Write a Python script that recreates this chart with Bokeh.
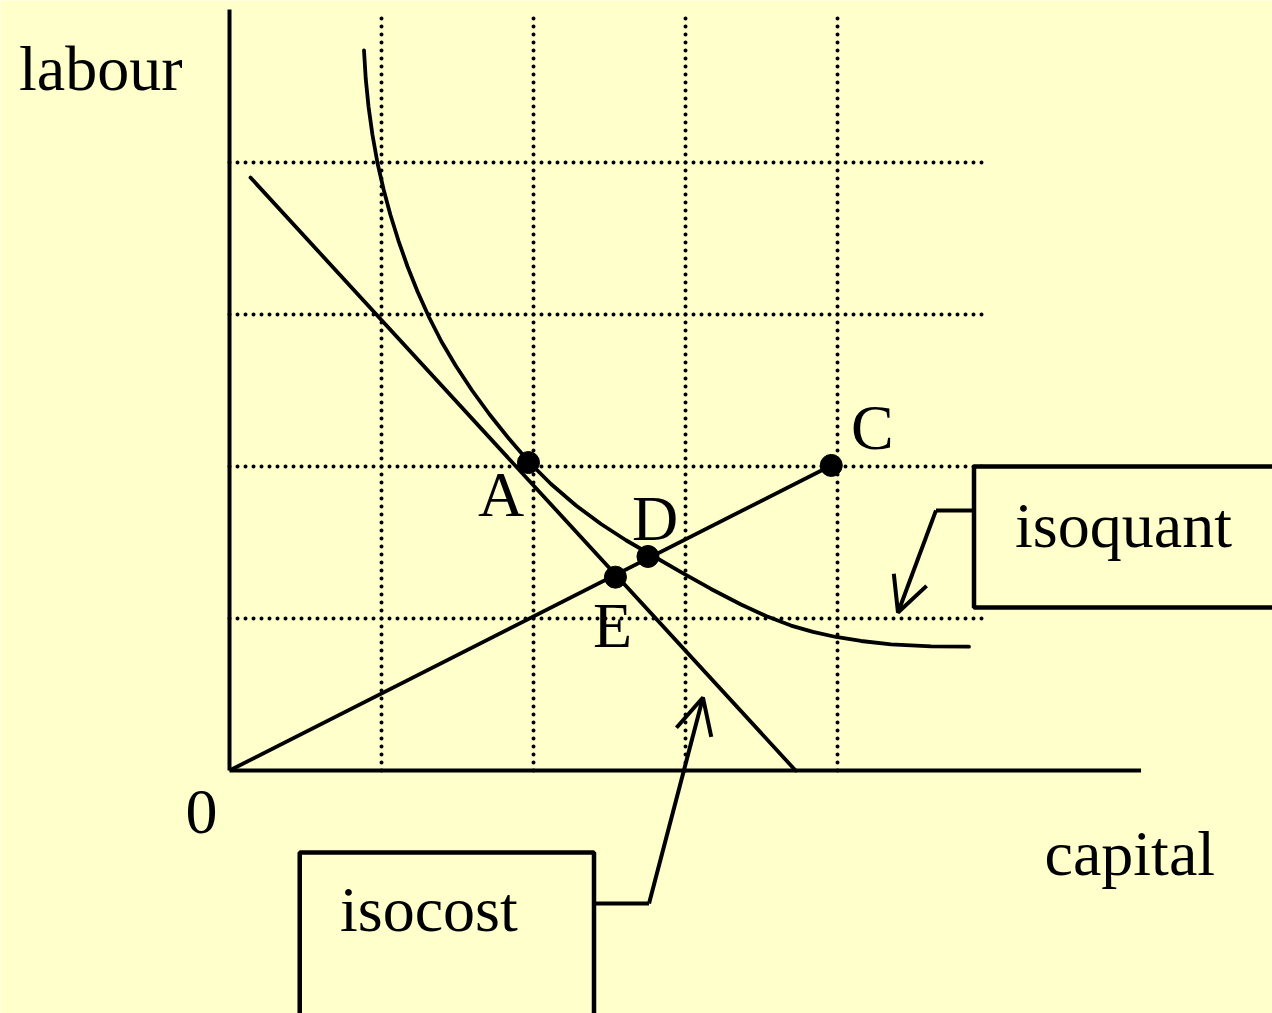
from bokeh.plotting import figure
from bokeh.models import ColumnDataSource, Arrow, OpenHead
from bokeh.core.properties import value
from bokeh.embed import file_html
from bokeh.resources import INLINE

# ---------------- data (axis units) ----------------
grid_x = [1, 2, 3, 4]            # dotted verticals (capital)
grid_y = [1, 2, 3, 4]            # dotted horizontals (labour)

isoquant_capital = [0.8849, 0.8961, 0.9145, 0.9401, 0.9743, 1.0138, 1.0579, 1.1112,
                    1.1711, 1.2368, 1.3138, 1.3941, 1.4875, 1.5961, 1.7112, 1.8375,
                    1.9737, 2.1151, 2.2796, 2.4441, 2.6086, 2.7730, 2.9704, 3.1678,
                    3.3651, 3.5296, 3.6941, 3.8388, 3.9901, 4.1546, 4.3520, 4.6151,
                    4.8651]
isoquant_labour = [4.7368, 4.5526, 4.3684, 4.1842, 3.9934, 3.8224, 3.6579, 3.4868,
                   3.3158, 3.1513, 2.9803, 2.8224, 2.6645, 2.5000, 2.3421, 2.1842,
                   2.0263, 1.8849, 1.7434, 1.6217, 1.5148, 1.4194, 1.3049, 1.1944,
                   1.0918, 1.0161, 0.9536, 0.9117, 0.8784, 0.8520, 0.8303, 0.8172,
                   0.8147]

isocost_capital = [0.138, 3.724]
isocost_labour = [3.901, 0.0]

ray_capital = [0.0, 3.959]
ray_labour = [0.0, 2.007]

point_names = ["A", "C", "D", "E"]
point_capital = [1.967, 3.959, 2.753, 2.539]
point_labour = [2.026, 2.007, 1.408, 1.272]

axis_capital_max = 5.997
axis_labour_max = 5.007
grid_extent = 4.97

# ---------------- figure ----------------
BG = "#FFFFCC"
p = figure(width=1272, height=1013, output_backend="svg", toolbar_location=None,
           x_range=(-1.5066, 6.8618), y_range=(-1.5987, 5.0658),
           x_axis_type=None, y_axis_type=None, min_border=0,
           background_fill_color=BG, border_fill_color=BG, outline_line_color=None)
p.grid.visible = False

# dotted grid
p.segment(x0=grid_x, y0=[0] * len(grid_x), x1=grid_x, y1=[grid_extent] * len(grid_x),
          line_color="black", line_width=4, line_dash="0 8", line_cap="round")
p.segment(x0=[0] * len(grid_y), y0=grid_y, x1=[grid_extent] * len(grid_y), y1=grid_y,
          line_color="black", line_width=4, line_dash="0 8", line_cap="round")

# axes
p.segment(x0=[0, 0], y0=[0, 0], x1=[0, axis_capital_max], y1=[axis_labour_max, 0],
          line_color="black", line_width=4)

# curves
p.line(isoquant_capital, isoquant_labour, line_color="black", line_width=3.8,
       line_join="round", line_cap="round")
p.line(isocost_capital, isocost_labour, line_color="black", line_width=3.8, line_cap="round")
p.line(ray_capital, ray_labour, line_color="black", line_width=3.8)

# callout boxes
p.quad(left=[4.898, 0.462], right=[7.5, 2.398], top=[2.0, -0.539], bottom=[1.072, -2.5],
       fill_color=BG, line_color="black", line_width=4.5)

# callout arrows
p.line([4.898, 4.648], [1.711, 1.711], line_color="black", line_width=4, line_join="round")
p.add_layout(Arrow(end=OpenHead(size=35, line_width=4, line_color="black"),
                   x_start=4.648, y_start=1.711, x_end=4.398, y_end=1.039,
                   line_width=4, line_color="black"))
p.line([2.398, 2.760], [-0.875, -0.875], line_color="black", line_width=4, line_join="round")
p.add_layout(Arrow(end=OpenHead(size=36, line_width=4, line_color="black"),
                   x_start=2.760, y_start=-0.875, x_end=3.115, y_end=0.480,
                   line_width=4, line_color="black"))

# points
p.scatter(point_capital, point_labour, size=22, color="black")

# labels
labels = ColumnDataSource(dict(
    text=["labour", "capital", "0", "A", "C", "D", "E", "isoquant", "isocost"],
    x=[-1.385, 5.362, -0.289, 1.635, 4.089, 2.648, 2.391, 5.168, 0.727],
    y=[4.618, -0.547, -0.270, 1.815, 2.256, 1.657, 0.953, 1.612, -0.915],
))
p.text(x="x", y="y", text="text", source=labels, text_font=value("Liberation Serif"),
       text_font_size=value("64px"), text_color="black",
       text_align="left", text_baseline="alphabetic")

open("out.html", "w").write(file_html(p, INLINE))
